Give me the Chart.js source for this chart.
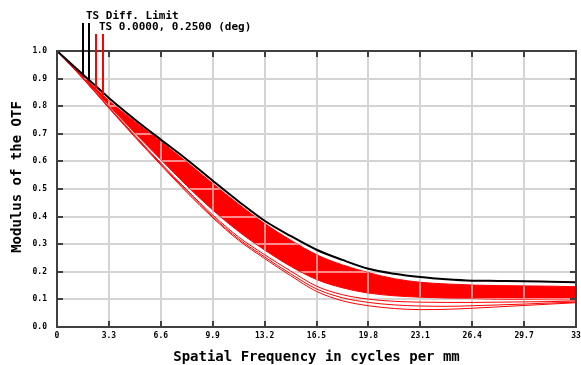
<!DOCTYPE html>
<html>
<head>
<meta charset="utf-8">
<script src="https://cdn.jsdelivr.net/npm/chart.js@4.4.1/dist/chart.umd.min.js"></script>
<style>
  html, body { margin: 0; padding: 0; background: #fff; }
  #wrap { width: 581px; height: 365px; }
</style>
</head>
<body>
<div id="wrap"><canvas id="mtfChart" width="581" height="365"></canvas></div>
<script>
const freq = [0, 1.65, 3.3, 4.95, 6.6, 8.25, 9.9, 11.55, 13.2, 14.85, 16.5,
              18.15, 19.8, 21.45, 23.1, 24.75, 26.4, 28.05, 29.7, 31.35, 33];
const xTicks = [0, 3.3, 6.6, 9.9, 13.2, 16.5, 19.8, 23.1, 26.4, 29.7, 33];
const yTicks = [0, 0.1, 0.2, 0.3, 0.4, 0.5, 0.6, 0.7, 0.8, 0.9, 1.0];

// diffraction limit (black)
const diffLimit = [1.0, 0.915, 0.83, 0.752, 0.679, 0.607, 0.53, 0.455, 0.385, 0.33, 0.28,
                   0.243, 0.211, 0.193, 0.181, 0.173, 0.168, 0.167, 0.166, 0.164, 0.162];
// red bundle: upper and lower edge of the dense part
const bandTop = [1.0, 0.91, 0.82, 0.745, 0.672, 0.598, 0.52, 0.445, 0.375, 0.315, 0.262,
                 0.225, 0.197, 0.175, 0.162, 0.156, 0.152, 0.15, 0.149, 0.148, 0.146];
const bandBottom = [1.0, 0.905, 0.803, 0.703, 0.607, 0.512, 0.424, 0.346, 0.279, 0.22, 0.172,
                    0.142, 0.123, 0.113, 0.108, 0.105, 0.103, 0.101, 0.1, 0.099, 0.098];
// the few red curves running below the bundle
const lowA = [1.0, 0.902, 0.797, 0.694, 0.594, 0.497, 0.406, 0.326, 0.262, 0.203, 0.148,
              0.117, 0.101, 0.093, 0.09, 0.089, 0.089, 0.09, 0.091, 0.092, 0.094];
const lowB = [1.0, 0.901, 0.795, 0.691, 0.59, 0.492, 0.4, 0.319, 0.254, 0.193, 0.138,
              0.106, 0.089, 0.08, 0.076, 0.075, 0.077, 0.08, 0.083, 0.087, 0.09];
const lowC = [1.0, 0.9, 0.793, 0.688, 0.587, 0.488, 0.396, 0.314, 0.248, 0.186, 0.129,
              0.095, 0.077, 0.067, 0.063, 0.064, 0.068, 0.073, 0.078, 0.083, 0.088];

// legend entries: label, colour, and frequencies where their marker lines drop onto the curve
const legendRows = [
    { text: 'TS Diff. Limit', color: '#000000', freqs: [1.65, 2.03], curve: diffLimit },
    { text: 'TS 0.0000, 0.2500 (deg)', color: '#ff0000', freqs: [2.48, 2.92], curve: bandTop }
];

const MONO = '"DejaVu Sans Mono", "Liberation Mono", monospace';
const GRID = '#d4d4d4';
const FRAME = '#404040';

const pts = arr => arr.map((v, i) => ({ x: freq[i], y: v }));

function interp(arr, f) {
    for (let i = 1; i < freq.length; i++) {
        if (f <= freq[i]) {
            const t = (f - freq[i - 1]) / (freq[i] - freq[i - 1]);
            return arr[i - 1] + t * (arr[i] - arr[i - 1]);
        }
    }
    return arr[arr.length - 1];
}

const redLine = (arr, extra) => Object.assign({
    data: pts(arr),
    borderColor: '#ff0000',
    borderWidth: 1,
    fill: false
}, extra || {});

// frame, inward ticks, axis titles and the legend
const decorations = {
    id: 'decorations',
    afterDatasetDraw(chart, args) {
        // faint grid showing through the red bundle
        if (args.index !== 1) return;
        const top = chart.getDatasetMeta(1).data;
        const bot = chart.getDatasetMeta(2).data;
        const { ctx, chartArea: a } = chart;
        ctx.save();
        ctx.beginPath();
        top.forEach((p, i) => i ? ctx.lineTo(p.x, p.y) : ctx.moveTo(p.x, p.y));
        for (let i = bot.length - 1; i >= 0; i--) ctx.lineTo(bot[i].x, bot[i].y);
        ctx.closePath();
        ctx.clip();
        ctx.strokeStyle = 'rgba(255,255,255,0.55)';
        ctx.lineWidth = 2;
        const xs = chart.scales.x, ys = chart.scales.y;
        ctx.beginPath();
        xTicks.forEach(v => { const px = Math.round(xs.getPixelForValue(v)); ctx.moveTo(px, a.top); ctx.lineTo(px, a.bottom); });
        yTicks.forEach(v => { const py = Math.round(ys.getPixelForValue(v)); ctx.moveTo(a.left, py); ctx.lineTo(a.right, py); });
        ctx.stroke();
        ctx.restore();
    },
    afterDraw(chart) {
        const { ctx, chartArea: a } = chart;
        const xs = chart.scales.x, ys = chart.scales.y;
        ctx.save();

        // frame with small ticks pointing inward
        ctx.strokeStyle = FRAME;
        ctx.lineWidth = 2;
        ctx.strokeRect(a.left, a.top, a.right - a.left, a.bottom - a.top);
        ctx.beginPath();
        xTicks.forEach(v => {
            const px = Math.round(xs.getPixelForValue(v));
            ctx.moveTo(px, a.top); ctx.lineTo(px, a.top + 6);
            ctx.moveTo(px, a.bottom); ctx.lineTo(px, a.bottom - 6);
        });
        yTicks.forEach(v => {
            const py = Math.round(ys.getPixelForValue(v));
            ctx.moveTo(a.left, py); ctx.lineTo(a.left + 6, py);
            ctx.moveTo(a.right, py); ctx.lineTo(a.right - 6, py);
        });
        ctx.stroke();

        // axis titles
        ctx.fillStyle = '#000';
        ctx.font = 'bold 14px ' + MONO;
        ctx.textAlign = 'center';
        ctx.textBaseline = 'alphabetic';
        ctx.fillText('Spatial Frequency in cycles per mm', (a.left + a.right) / 2, 361);
        ctx.save();
        ctx.translate(21, 177);
        ctx.rotate(-Math.PI / 2);
        ctx.fillText('Modulus of the OTF', 0, 0);
        ctx.restore();

        // legend: text plus marker lines dropping onto each curve
        ctx.font = 'bold 11px ' + MONO;
        ctx.textAlign = 'left';
        const textX = [86, 99];
        const textY = [19, 30];
        const lineTop = [23, 34];
        legendRows.forEach((row, r) => {
            ctx.fillStyle = '#000';
            ctx.fillText(row.text, textX[r], textY[r]);
            ctx.strokeStyle = row.color;
            ctx.lineWidth = 2;
            ctx.beginPath();
            row.freqs.forEach(f => {
                const px = Math.round(xs.getPixelForValue(f));
                ctx.moveTo(px, lineTop[r]);
                ctx.lineTo(px, ys.getPixelForValue(interp(row.curve, f)));
            });
            ctx.stroke();
        });
        ctx.restore();
    }
};

const ctx = document.getElementById('mtfChart').getContext('2d');
const chart = new Chart(ctx, {
    type: 'line',
    data: {
        datasets: [
            { data: pts(diffLimit), borderColor: '#000000', borderWidth: 2, fill: false },
            redLine(bandTop, { fill: '+1', backgroundColor: '#ff0000' }),
            redLine(bandBottom),
            redLine(lowA),
            redLine(lowB),
            redLine(lowC)
        ]
    },
    options: {
        responsive: false,
        animation: false,
        events: [],
        layout: { padding: { left: 0, top: 51, right: 5, bottom: 0 } },
        elements: {
            point: { radius: 0 },
            line: { cubicInterpolationMode: 'monotone' }
        },
        plugins: {
            legend: { display: false },
            tooltip: { enabled: false }
        },
        scales: {
            x: {
                type: 'linear',
                min: 0,
                max: 33,
                afterBuildTicks: s => { s.ticks = xTicks.map(v => ({ value: v })); },
                afterFit: s => { s.height = 38; s.paddingLeft = 0; s.paddingRight = 0; },
                grid: { color: GRID, lineWidth: 2, drawTicks: false },
                border: { display: false },
                ticks: {
                    padding: 4,
                    autoSkip: false,
                    maxRotation: 0,
                    color: '#000',
                    font: { family: MONO, size: 8, weight: 'bold' },
                    callback: v => String(Math.round(v * 10) / 10)
                }
            },
            y: {
                min: 0,
                max: 1,
                afterBuildTicks: s => { s.ticks = yTicks.map(v => ({ value: v })); },
                afterFit: s => { s.width = 57; },
                grid: { color: GRID, lineWidth: 2, drawTicks: false },
                border: { display: false },
                ticks: {
                    padding: 10,
                    color: '#000',
                    font: { family: MONO, size: 8, weight: 'bold' },
                    callback: v => v.toFixed(1)
                }
            }
        }
    },
    plugins: [decorations]
});
</script>
</body>
</html>
